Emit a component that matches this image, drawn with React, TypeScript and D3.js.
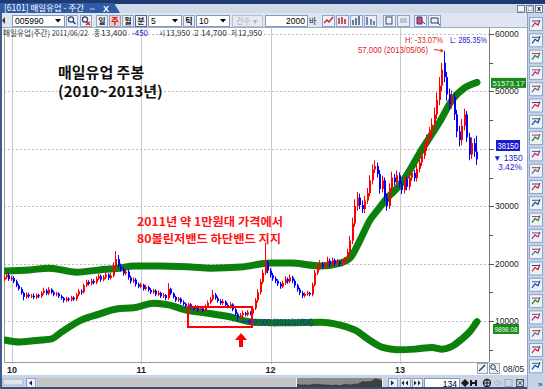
import React from "react";
import * as d3 from "d3";

// ---------------- data (prices in thousand won, weekly bars) ----------------
const opens = [
  17.2,17.6,18.0,17.3,17.5,16.9,16.2,15.6,14.9,14.2,
  14.6,14.3,14.4,14.1,14.5,14.3,14.9,15.3,14.8,15.5,
  15.0,14.6,14.8,14.3,14.0,13.6,13.9,13.7,14.1,13.8,
  14.6,15.2,15.0,16.2,16.8,16.5,17.0,16.7,17.4,17.8,
  17.2,17.6,18.1,17.5,17.9,19.5,20.8,19.6,19.0,18.3,
  18.6,17.6,16.9,17.2,16.4,16.0,16.3,15.6,15.9,15.4,
  15.0,15.3,14.6,14.9,14.3,14.5,14.0,15.6,14.8,14.2,
  13.6,13.9,13.3,13.0,12.6,12.9,12.3,12.1,12.5,11.9,
  12.2,11.8,12.6,13.2,13.8,14.6,14.0,13.5,13.1,13.4,
  12.8,12.5,12.9,12.0,11.2,10.6,11.0,11.4,11.1,11.5,
  11.3,12.2,13.6,15.0,16.8,18.4,20.2,18.8,18.0,17.4,
  17.0,16.5,16.0,16.6,17.3,16.9,17.6,17.0,16.2,15.5,
  14.9,14.4,14.7,14.9,14.6,16.3,18.4,19.3,20.0,19.5,
  19.8,20.5,19.8,20.6,20.0,20.3,19.9,20.4,20.7,22.0,
  24.0,27.0,30.0,31.5,30.2,29.5,31.0,32.3,34.5,36.4,
  37.0,35.6,33.0,34.5,31.5,30.0,33.2,35.0,34.2,35.4,
  33.9,32.8,34.6,33.4,35.0,35.8,34.9,36.5,37.6,38.8,
  40.3,41.5,42.8,44.2,46.0,48.5,51.0,55.0,52.5,49.5,
  47.8,49.0,46.0,43.0,41.5,44.0,46.0,42.0,39.0,41.0,
  39.5,
];
const highs = [
  18.1,18.4,18.3,17.9,17.8,17.2,16.5,15.9,15.1,15.0,
  14.9,14.7,14.8,14.8,14.7,15.2,15.8,15.6,15.9,15.7,
  15.3,15.1,15.0,14.6,14.2,14.2,14.1,14.4,14.3,14.9,
  15.6,15.5,16.5,17.2,17.1,17.4,17.3,17.8,18.2,18.1,
  18.0,18.5,18.3,18.4,20.2,22.2,21.5,20.0,19.4,19.1,
  18.9,17.9,17.6,17.5,16.7,16.7,16.5,16.3,16.1,15.7,
  15.6,15.5,15.3,15.1,14.9,14.7,16.6,15.8,15.0,14.4,
  14.2,14.1,13.6,13.2,13.2,13.1,12.6,12.8,12.7,12.5,
  12.4,12.9,13.6,14.2,15.4,14.9,14.3,13.8,13.8,13.6,
  13.1,13.3,13.1,12.3,11.5,11.4,11.8,11.6,11.9,11.7,
  12.5,14.0,15.5,17.3,19.0,23.6,20.6,19.2,18.4,17.8,
  17.3,16.8,17.0,17.8,17.6,18.1,17.9,17.3,16.5,15.8,
  15.2,15.0,15.3,15.1,16.7,18.9,19.8,20.6,20.3,20.3,
  21.2,20.9,21.1,20.9,20.8,20.6,20.8,21.1,22.6,24.8,
  28.0,31.2,32.5,32.2,31.0,31.8,33.2,35.4,37.3,38.0,
  37.6,36.3,35.3,35.0,32.2,34.0,36.0,35.6,36.2,35.9,
  34.4,35.3,35.1,35.6,36.5,36.3,37.2,38.4,39.6,41.2,
  42.5,43.8,45.3,47.2,49.8,52.5,55.0,57.0,53.4,50.5,
  50.2,49.8,46.8,44.0,45.2,47.0,46.6,42.8,42.0,41.8,
  42.3,
];
const lows = [
  16.9,17.3,17.0,17.0,16.6,15.9,15.3,14.6,13.6,13.9,
  14.0,14.0,13.8,13.8,14.0,14.0,14.6,14.5,14.5,14.7,
  14.3,14.3,14.0,13.7,13.2,13.3,13.4,13.4,13.5,13.5,
  14.3,14.6,14.8,15.9,16.2,16.2,16.4,16.4,17.1,16.8,
  16.9,17.3,17.1,17.2,17.6,19.1,19.2,18.6,17.9,18.0,
  17.2,16.5,16.6,16.0,15.7,15.7,15.3,15.3,15.1,14.7,
  14.7,14.3,14.3,14.0,14.0,13.6,13.7,14.5,13.9,13.3,
  13.3,13.0,12.7,12.3,12.3,12.0,11.8,11.8,11.6,11.6,
  11.5,11.6,12.3,12.9,13.5,13.7,13.2,12.8,12.8,12.5,
  12.2,12.2,11.7,10.9,9.9,10.3,10.7,10.8,10.8,11.0,
  11.0,11.9,13.2,14.6,16.4,18.0,18.3,17.6,17.0,16.6,
  16.1,15.6,15.7,16.3,16.5,16.6,16.6,15.8,15.1,14.5,
  14.0,14.1,14.4,14.3,14.3,16.0,18.0,18.9,19.1,19.1,
  19.4,19.4,19.4,19.6,19.6,19.5,19.5,20.0,20.3,21.5,
  23.4,26.4,29.2,29.5,28.8,28.8,30.4,31.7,33.8,35.8,
  35.0,32.2,32.4,30.8,29.2,29.5,32.6,33.6,33.6,33.2,
  32.1,32.2,32.8,32.8,34.4,34.3,34.3,35.9,37.0,38.2,
  39.6,40.8,42.0,43.4,45.2,47.6,50.0,51.6,48.4,46.8,
  47.0,45.0,42.0,40.4,40.6,43.2,41.2,38.0,38.2,38.6,
  37.2,
];
const closes = [
  17.6,18.0,17.3,17.5,16.9,16.2,15.6,14.9,14.2,14.6,
  14.3,14.4,14.1,14.5,14.3,14.9,15.3,14.8,15.5,15.0,
  14.6,14.8,14.3,14.0,13.6,13.9,13.7,14.1,13.8,14.6,
  15.2,15.0,16.2,16.8,16.5,17.0,16.7,17.4,17.8,17.2,
  17.6,18.1,17.5,17.9,19.5,20.8,19.6,19.0,18.3,18.6,
  17.6,16.9,17.2,16.4,16.0,16.3,15.6,15.9,15.4,15.0,
  15.3,14.6,14.9,14.3,14.5,14.0,15.6,14.8,14.2,13.6,
  13.9,13.3,13.0,12.6,12.9,12.3,12.1,12.5,11.9,12.2,
  11.8,12.6,13.2,13.8,14.6,14.0,13.5,13.1,13.4,12.8,
  12.5,12.9,12.0,11.2,10.6,11.0,11.4,11.1,11.5,11.3,
  12.2,13.6,15.0,16.8,18.4,20.2,18.8,18.0,17.4,17.0,
  16.5,16.0,16.6,17.3,16.9,17.6,17.0,16.2,15.5,14.9,
  14.4,14.7,14.9,14.6,16.3,18.4,19.3,20.0,19.5,19.8,
  20.5,19.8,20.6,20.0,20.3,19.9,20.4,20.7,22.0,24.0,
  27.0,30.0,31.5,30.2,29.5,31.0,32.3,34.5,36.4,37.0,
  35.6,33.0,34.5,31.5,30.0,33.2,35.0,34.2,35.4,33.9,
  32.8,34.6,33.4,35.0,35.8,34.9,36.5,37.6,38.8,40.3,
  41.5,42.8,44.2,46.0,48.5,51.0,53.8,52.5,49.5,47.8,
  49.0,46.0,43.0,41.5,44.0,46.0,42.0,39.0,41.0,39.5,
  38.15,
];

const upperIdx = [0,10,18,29,38,46,52,62,75,83,95,107,115,127,135,139,143,147,150,154,158,162,167,175,180,185,190];
const upperVal = [18.7,18.9,19.2,18.5,18.9,19.2,19.6,19.6,19.4,19.2,19.4,20.1,20.1,19.6,20.1,21.0,24.1,27.6,29.3,31.5,33.2,35.6,39.3,44.7,48.5,50.6,51.57];
const lowerIdx = [0,6,15,19,23,31,38,45,52,60,66,73,81,91,100,114,127,135,141,147,152,158,165,172,176,180,184,187,190];
const lowerVal = [6.7,6.35,6.7,6.9,8.1,10.2,11.2,12.1,12.3,13.1,12.8,11.9,11.4,10.7,9.8,9.7,9.8,9.3,8.4,6.6,5.4,5.0,5.1,5.4,5.1,5.6,6.9,8.1,9.9];

const yearTickIdx = [3, 55, 107, 159];
const yearTickLabels = ["10", "11", "12", "13"];
const priceTicks = [60, 50, 40, 30, 20, 10];
const priceTickLabels = ["60000", "50000", "40000", "30000", "20000", "10000"];
const minorTicks = [55, 45, 35, 25, 15, 5];

// info line: [text, x, width, colour]
const infoItems: [string, number, number, string][] = [
  ["매일유업(주간)", 3, 47, "#333"],
  ["2011/06/22", 52, 36, "#333"],
  ["종", 94, 6, "#333"],
  ["13,400", 101, 26, "#333"],
  ["-450", 132, 16, "#1010d0"],
  ["시", 159, 6, "#333"],
  ["13,950", 166, 24, "#333"],
  ["고", 193, 6, "#333"],
  ["14,700", 201, 26, "#333"],
  ["저", 231, 6, "#333"],
  ["12,950", 238, 24, "#333"],
];

const highIdx = 177;
const lowIdx = 94;
const highValue = 57;
const lowValue = 9.9;
const highLabel = "57,000 (2013/05/06)";
const lowLabel = "9,900 (2011/10/04)";
const hText = "H: -33.07%";
const lText = "L: 285.35%";
const upperLastValue = 51.57;
const upperLastLabel = "51573.17";
const lowerLastLabel = "9898.08";
const lastPriceLabel = "38150";
const lastChangeLabel = "▼ 1350";
const lastPctLabel = "3.42%";

const KR = "'Noto Sans CJK KR', 'Noto Sans', sans-serif";
const NUM = "'Liberation Sans', Arial, sans-serif";

const RED = "#ff0000";
const BLUE = "#0000ff";
const GREEN = "#0b800b";

function Btn({ x, y, w, h, fill = "#eef2f8", stroke = "#8ea3c6" }: any) {
  return <rect x={x + 0.5} y={y + 0.5} width={w} height={h} fill={fill} stroke={stroke} strokeWidth={1} />;
}

export default function App() {
  const x = d3.scaleLinear().domain([0, 190]).range([4.5, 477]);
  const y = d3.scaleLinear().domain([10, 60]).range([321, 34]);
  const band = d3
    .line<[number, number]>()
    .x((d) => x(d[0]))
    .y((d) => y(d[1]))
    .curve(d3.curveMonotoneX);
  const upperPath = band(upperIdx.map((i, k) => [i, upperVal[k]] as [number, number])) || "";
  const lowerPath = band(lowerIdx.map((i, k) => [i, lowerVal[k]] as [number, number])) || "";

  // current-price box sits on the axis and hides the tick label below it
  const lastBoxTop = 140;
  const lastBoxBottom = 151;

  // scrollbar overview silhouette
  const sx = d3.scaleLinear().domain([0, 190]).range([297, 382]);
  const sy = d3.scaleLinear().domain([0, 60]).range([387, 377]);
  const overview = d3
    .area<number>()
    .x((_, i) => sx(i))
    .y0(387)
    .y1((d) => sy(d))(closes) || "";

  const rightIcons = d3.range(22);
  const iconColors = ["#d02020", "#2040c0", "#208020", "#c02080", "#606060"];

  return (
    <svg
      width={545}
      height={389}
      viewBox="0 0 545 389"
      style={{ position: "fixed", left: 0, top: 0, background: "#fff" }}
      fontFamily={NUM}
    >
      <defs>
        <clipPath id="plot">
          <rect x={4} y={28} width={485} height={334} />
        </clipPath>
      </defs>

      <rect x={0} y={0} width={545} height={389} fill="#ffffff" />

      {/* title strip */}
      <rect x={0} y={0} width={545} height={4} fill="#1f3a72" />
      <rect x={0} y={4} width={545} height={9} fill="#cfd9e8" />
      <path d="M0,3 L114,3 L120,13 L0,13 Z" fill="#2f5aa6" />
      <text x={4} y={11} fontSize={8.5} fill="#ffffff" fontFamily={KR} textLength={80} lengthAdjust="spacingAndGlyphs">
        [6101] 매일유업 - 주간
      </text>
      <text x={88} y={11} fontSize={8} fill="#ffffff">⇔</text>
      <text x={103} y={11.5} fontSize={9} fill="#ffffff" fontWeight="bold">X</text>
      {[517, 526, 535].map((bx, k) => (
        <g key={k}>
          <Btn x={bx} y={5} w={7} h={7} fill="#f2f4f8" stroke="#6f7f99" />
          <text x={bx + 4} y={11} fontSize={7} textAnchor="middle" fill="#000" fontWeight="bold">
            {["_", "□", "x"][k]}
          </text>
        </g>
      ))}

      {/* toolbar row */}
      <rect x={0} y={13} width={545} height={15} fill="#dfe6f1" />
      <line x1={0} y1={27.5} x2={527} y2={27.5} stroke="#9aabc6" />
      <path d="M5,17 L2,20.5 L5,24 Z" fill="#333" />
      <Btn x={12} y={15} w={52} h={11} fill="#ffffff" stroke="#7f9db9" />
      <text x={15} y={24} fontSize={8.5} fill="#000">005990</text>
      <path d="M55,19 L61,19 L58,22.5 Z" fill="#000" />
      <Btn x={66} y={15} w={11} h={11} />
      <circle cx={71} cy={19.5} r={2.6} fill="none" stroke="#304060" strokeWidth={1.2} />
      <line x1={73} y1={21.5} x2={75.5} y2={24} stroke="#304060" strokeWidth={1.5} />
      <Btn x={80} y={15} w={11} h={11} />
      <circle cx={85} cy={19.5} r={2.6} fill="none" stroke="#304060" strokeWidth={1.2} />
      <path d="M86,22 L90,25 M90,22 L86,25" stroke="#e01010" strokeWidth={1.2} />
      {["일", "주", "월", "분"].map((t, k) => (
        <g key={t}>
          <Btn x={96 + k * 13} y={15} w={11} h={11} fill={k === 1 ? "#f6c9c9" : "#eef2f8"} stroke={k === 3 ? "#55698d" : "#8ea3c6"} />
          <text x={102 + k * 13} y={24} fontSize={8} textAnchor="middle" fontFamily={KR} fontWeight="bold" fill={k === 1 ? "#c00000" : "#222"}>
            {t}
          </text>
        </g>
      ))}
      <Btn x={148} y={15} w={33} h={11} fill="#ffffff" stroke="#7f9db9" />
      <text x={151} y={24} fontSize={8.5}>5</text>
      <path d="M172,19 L178,19 L175,22.5 Z" fill="#000" />
      <Btn x={183} y={15} w={11} h={11} />
      <text x={189} y={24} fontSize={8} textAnchor="middle" fontFamily={KR} fontWeight="bold">틱</text>
      <Btn x={196} y={15} w={33} h={11} fill="#ffffff" stroke="#7f9db9" />
      <text x={199} y={24} fontSize={8.5}>10</text>
      <path d="M220,19 L226,19 L223,22.5 Z" fill="#000" />
      <Btn x={232} y={15} w={30} h={11} fill="#e6eaf0" stroke="#b6c2d4" />
      <text x={236} y={24} fontSize={8} fontFamily={KR} fill="#a8b0bc">건수 ▾</text>
      <Btn x={265} y={15} w={42} h={11} fill="#ffffff" stroke="#7f9db9" />
      <text x={305} y={24} fontSize={8.5} textAnchor="end">2000</text>
      <text x={309} y={24} fontSize={8} fontFamily={KR} fill="#222">바</text>
      {[322, 336, 350, 364, 383, 397, 414, 428].map((bx, k) => (
        <g key={bx}>
          <Btn x={bx} y={15} w={12} h={11} fill={k === 5 ? "#e8ebf0" : "#eef2f8"} />
          {k === 0 && <path d={`M${bx + 2},23 L${bx + 5},20 L${bx + 7},22 L${bx + 11},17`} stroke="#d01818" fill="none" strokeWidth={1.3} />}
          {k === 1 && <path d={`M${bx + 3},18 v6 M${bx + 6},17 v7 M${bx + 9},19 v5`} stroke="#c02020" strokeWidth={1.5} />}
          {k === 2 && <path d={`M${bx + 3},20 v5 M${bx + 6},18 v7 M${bx + 9},16 v9`} stroke="#4a5a78" strokeWidth={1.6} />}
          {k === 3 && <path d={`M${bx + 3},17 v8 M${bx + 7},19 v6 M${bx + 10},21 v4`} stroke="#304a80" strokeWidth={1.3} />}
          {k === 4 && <rect x={bx + 3} y={17} width={6} height={7} fill="none" stroke="#3a4a6a" />}
          {k === 5 && <rect x={bx + 3} y={18} width={7} height={5} fill="#c0c4cc" />}
          {k === 6 && <path d={`M${bx + 3},17 h5 v7 h-5 Z M${bx + 8},21 l3,3`} stroke="#2040b0" fill="#f04040" strokeWidth={1} />}
          {k === 7 && <path d={`M${bx + 3},18 h7 v5 h-7 Z M${bx + 9},22 l3,3`} stroke="#2a3a6a" fill="none" strokeWidth={1} />}
        </g>
      ))}

      {/* grid */}
      {priceTicks.map((p) => (
        <line key={p} x1={4} x2={489} y1={Math.round(y(p)) + 0.5} y2={Math.round(y(p)) + 0.5} stroke="#bdbdbd" strokeDasharray="2,2" />
      ))}
      {yearTickIdx.map((i) => (
        <line key={i} x1={Math.round(x(i)) + 0.5} x2={Math.round(x(i)) + 0.5} y1={28} y2={364} stroke="#c8c8c8" />
      ))}

      {/* plot frame */}
      <line x1={4.5} y1={28} x2={4.5} y2={362} stroke="#a0a0a0" />
      <line x1={4} y1={362.5} x2={489} y2={362.5} stroke="#9a9a9a" />
      <line x1={489.5} y1={28} x2={489.5} y2={362} stroke="#7a7a7a" />

      {/* info line */}
      {infoItems.map(([t, ix, w, col]) => (
        <text key={t + ix} x={ix} y={36} fontSize={8} fill={col} fontFamily={KR} textLength={w} lengthAdjust="spacingAndGlyphs">
          {t}
        </text>
      ))}

      {/* bollinger bands and candles */}
      <g clipPath="url(#plot)">
        <path d={upperPath} fill="none" stroke={GREEN} strokeWidth={7} strokeLinecap="round" />
        <path d={lowerPath} fill="none" stroke={GREEN} strokeWidth={7} strokeLinecap="round" />
        {closes.map((c, i) => {
          const o = opens[i];
          const col = c >= o ? RED : BLUE;
          const cx = Math.round(x(i)) - 1;
          const yt = y(Math.max(o, c));
          const yb = y(Math.min(o, c));
          return (
            <g key={i}>
              <line x1={cx + 0.5} x2={cx + 0.5} y1={y(highs[i])} y2={y(lows[i])} stroke={col} strokeWidth={1} />
              <rect x={cx} y={yt} width={2} height={Math.max(1, yb - yt)} fill={col} />
            </g>
          );
        })}
      </g>

      {/* title */}
      <text x={58} y={78} fontSize={15} fontWeight="bold" fontFamily={KR} fill="#111">매일유업 주봉</text>
      <text x={58} y={97} fontSize={15} fontWeight="bold" fontFamily={KR} fill="#111">(2010~2013년)</text>

      {/* red annotation */}
      <text x={137} y={226} fontSize={11.5} fontWeight="bold" fontFamily={KR} fill="#ff1414" textLength={146} lengthAdjust="spacingAndGlyphs">
        2011년 약 1만원대 가격에서
      </text>
      <text x={137} y={243} fontSize={11.5} fontWeight="bold" fontFamily={KR} fill="#ff1414" textLength={144} lengthAdjust="spacingAndGlyphs">
        80볼린저밴드 하단밴드 지지
      </text>
      <rect x={188} y={307} width={64} height={20} fill="none" stroke={RED} strokeWidth={2} />
      <path d="M241,333 L235,340 L239,340 L239,347 L243,347 L243,340 L247,340 Z" fill={RED} />

      {/* high / low markers */}
      <text x={405} y={43} fontSize={8.5} fill="#e02020" textLength={38} lengthAdjust="spacingAndGlyphs">{hText}</text>
      <text x={450} y={43} fontSize={8.5} fill="#2020d0" textLength={37} lengthAdjust="spacingAndGlyphs">{lText}</text>
      <text x={358} y={53} fontSize={8.5} fill="#e02020" textLength={70} lengthAdjust="spacingAndGlyphs">{highLabel}</text>
      <line x1={434} y1={49.5} x2={x(highIdx) - 2} y2={y(highValue) - 0.5} stroke="#e02020" strokeWidth={1} />
      <path d={`M${x(highIdx) - 1},${y(highValue) - 0.5} l-3,-2 l0,4 Z`} fill="#e02020" />
      <line x1={x(lowIdx) + 2} y1={y(lowValue)} x2={251} y2={y(lowValue)} stroke="#2020d0" strokeWidth={1} />
      <rect x={248} y={y(lowValue) - 2} width={3} height={4} fill="#2020d0" />
      <text x={253} y={y(lowValue) + 3} fontSize={9} fill="#2020d0" textLength={60} lengthAdjust="spacingAndGlyphs">{lowLabel}</text>

      {/* right axis */}
      {priceTicks.map((p, k) => {
        const ty = y(p);
        const hidden = ty > lastBoxTop - 4 && ty < lastBoxBottom + 4;
        return (
          <g key={p}>
            <line x1={489} x2={494} y1={Math.round(ty) + 0.5} y2={Math.round(ty) + 0.5} stroke="#555" />
            {!hidden && (
              <text x={495} y={ty + 3} fontSize={8.5} fill="#222">{priceTickLabels[k]}</text>
            )}
          </g>
        );
      })}
      {minorTicks.map((p) => (
        <line key={p} x1={489} x2={493} y1={Math.round(y(p)) + 0.5} y2={Math.round(y(p)) + 0.5} stroke="#555" />
      ))}
      <rect x={491} y={y(upperLastValue) - 4.5} width={35} height={10} fill="#198a19" />
      <text x={492.5} y={y(upperLastValue) + 3.5} fontSize={8} fill="#e8ffe8" textLength={32} lengthAdjust="spacingAndGlyphs">{upperLastLabel}</text>
      <rect x={493} y={324} width={26} height={10} fill="#198a19" />
      <text x={494.5} y={332} fontSize={8} fill="#e8ffe8" textLength={23} lengthAdjust="spacingAndGlyphs">{lowerLastLabel}</text>
      <rect x={496} y={lastBoxTop} width={24} height={lastBoxBottom - lastBoxTop} fill="#1a1ad0" />
      <text x={497.5} y={148.5} fontSize={8.5} fill="#ffffff" textLength={21} lengthAdjust="spacingAndGlyphs">{lastPriceLabel}</text>
      <text x={493} y={161} fontSize={8.5} fill="#1a1ad0">{lastChangeLabel}</text>
      <text x={498} y={170} fontSize={8.5} fill="#1a1ad0">{lastPctLabel}</text>

      {/* bottom axis */}
      {yearTickIdx.map((i, k) => (
        <text key={i} x={x(i)} y={373} fontSize={9} fontWeight="bold" textAnchor="middle" fill="#222">
          {yearTickLabels[k]}
        </text>
      ))}
      <Btn x={477} y={363} w={10} h={10} />
      <path d="M479,371 L485,365" stroke="#333" strokeWidth={1.2} />
      <Btn x={489} y={363} w={10} h={10} />
      <circle cx={493} cy={367} r={2.3} fill="none" stroke="#333" />
      <line x1={495} y1={369} x2={498} y2={372} stroke="#333" />
      <text x={503} y={372} fontSize={8.5} fill="#222">08/05</text>

      {/* scroll row */}
      <rect x={0} y={375} width={527} height={14} fill="#c9d5e7" />
      <rect x={3} y={379} width={20} height={6} fill="#dfe4ec" stroke="#aab6c8" />
      <Btn x={26} y={378} w={9} h={10} />
      <path d="M32,380.5 L29,383 L32,385.5 Z" fill="#222" />
      <rect x={37} y={378} width={346} height={10} fill="#c4c4c4" />
      <rect x={296} y={378} width={87} height={10} fill="#8a8a8a" />
      <path d={overview} fill="#3f3f3f" />
      <line x1={296.5} y1={378} x2={296.5} y2={388} stroke="#f0f0f0" />
      <line x1={382.5} y1={378} x2={382.5} y2={388} stroke="#f0f0f0" />
      <Btn x={388} y={378} w={9} h={10} />
      <path d="M391,380.5 L394,383 L391,385.5 Z" fill="#222" />
      <Btn x={400} y={378} w={10} h={10} />
      <path d="M404,380.5 L401.5,383 L404,385.5 Z M408,380.5 L405.5,383 L408,385.5 Z" fill="#222" />
      <Btn x={412} y={378} w={10} h={10} />
      <path d="M414,380.5 L416.5,383 L414,385.5 Z M418,380.5 L420.5,383 L418,385.5 Z" fill="#222" />
      <rect x={424.5} y={378.5} width={35} height={10} fill="#fff" stroke="#7f9db9" />
      <text x={457} y={387} fontSize={8.5} textAnchor="end">134</text>
      <path d="M465,379 L469,383 L465,387 L461,383 Z" fill="#1a1a1a" />
      <path d="M471,380 v6 M471,383 h5 M476,380 v6" stroke="#1a1a1a" strokeWidth={2} />
      <circle cx={487} cy={383} r={3.5} fill="none" stroke="#1a1a1a" strokeWidth={1.3} />
      <path d="M483.5,383 h7 M487,379.5 v7" stroke="#1a1a1a" />
      <path d="M494,383 l3,-3 v2 h4 v2 h-4 v2 Z" fill="#d0d4da" stroke="#a0a8b4" strokeWidth={0.6} />
      <rect x={505} y={379.5} width={7} height={7} fill="none" stroke="#a0a8b4" />
      <rect x={516.5} y={379.5} width={7} height={7} fill="none" stroke="#555" />
      <path d="M517.5,380.5 l5,5 M522.5,380.5 l-5,5" stroke="#555" />
      <rect x={0} y={387} width={545} height={2} fill="#34507e" />

      {/* right tool column */}
      <rect x={527} y={13} width={18} height={376} fill="#c5d3e8" />
      <line x1={527.5} y1={13} x2={527.5} y2={389} stroke="#8ba0c2" />
      {rightIcons.map((k) => {
        const by = 17 + k * 16.3;
        const c1 = iconColors[k % iconColors.length];
        const c2 = iconColors[(k + 1) % iconColors.length];
        return (
          <g key={k}>
            <Btn x={529} y={by} w={13} h={13} fill="#eef2f9" stroke="#8ea3c6" />
            <path d={`M532,${by + 10} L535,${by + 6} L538,${by + 8} L540,${by + 3}`} stroke={c1} fill="none" strokeWidth={1.2} />
            <path d={`M532,${by + 4} h7`} stroke={c2} strokeWidth={1} />
          </g>
        );
      })}
      <text x={538} y={387} fontSize={8} fill="#222">»</text>

      {/* left frame */}
      <rect x={0} y={13} width={2} height={376} fill="#3d5b8c" />
    </svg>
  );
}
